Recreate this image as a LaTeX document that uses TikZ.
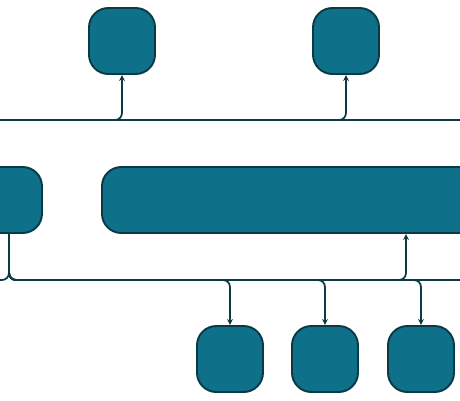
\documentclass[tikz,border=0pt]{standalone}
\usepackage{tikz}
\usetikzlibrary{arrows.meta}
\definecolor{boxfill}{RGB}{15,112,138}
\definecolor{boxline}{RGB}{10,58,70}

\begin{document}
\begin{tikzpicture}[x=0.02cm, y=-0.02cm, >={Stealth[length=3.4pt,width=3.2pt]},
  box/.style={draw=boxline, fill=boxfill, line width=1.1pt, rounded corners=11,
    minimum width=1.32cm, minimum height=1.32cm, inner sep=0pt},
  link/.style={draw=boxline, line width=1pt, rounded corners=4}]
\useasboundingbox (0,0) rectangle (460,400);
% 方框
\node[box] (top1) at (122,41) {};
\node[box] (top2) at (346,41) {};
\node[box] (left) at (9,200) {};
\node[box, minimum width=9.2cm, anchor=west] (big) at (101,200) {};
\node[box] (bot1) at (230,359) {};
\node[box] (bot2) at (325,359) {};
\node[box] (bot3) at (421,359) {};
% 总线
\coordinate (busTL) at (0,120);
\coordinate (busTR) at (460,120);
\coordinate (busBL) at (0,280);
\coordinate (busBR) at (460,280);
\coordinate (tap) at (406,280);
\draw[link] (busTL) -- (busTR);
\draw[link] (left.south) |- (busBL);
\draw[link] (left.south) |- (busBR);
% 分支
\draw[link,->] (busTL) -| (top1.south);
\draw[link,->] (busTL) -| (top2.south);
\draw[link,->] (left.south) |- (tap) -- (tap |- big.south);
\foreach \b in {bot1,bot2,bot3}
  \draw[link,->] (left.south) |- (\b.north |- busBL) -- (\b.north);
\end{tikzpicture}
\end{document}
